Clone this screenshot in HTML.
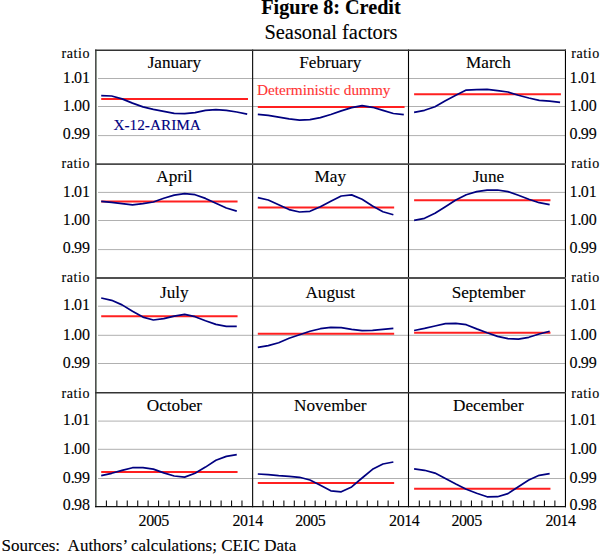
<!DOCTYPE html>
<html><head><meta charset="utf-8"><style>
html,body{margin:0;padding:0;background:#fff;width:600px;height:554px;overflow:hidden;}
svg{display:block;font-family:"Liberation Serif",serif;}

</style></head><body>
<svg width="600" height="554" viewBox="0 0 600 554">
<rect width="600" height="554" fill="#fff"/>
<text x="331" y="13.9" text-anchor="middle" font-family="'Liberation Serif', serif" font-weight="bold" font-size="20.2" fill="#000" stroke="#000" stroke-width="0.12">Figure 8: Credit</text>
<text x="331" y="39.0" text-anchor="middle" font-family="'Liberation Serif', serif" font-size="20.4" fill="#000" stroke="#000" stroke-width="0.12">Seasonal factors</text>
<line x1="98" y1="78.5" x2="565.2" y2="78.5" stroke="#b0b0b0" stroke-width="1"/>
<line x1="98" y1="106.5" x2="565.2" y2="106.5" stroke="#b0b0b0" stroke-width="1"/>
<line x1="98" y1="135.6" x2="565.2" y2="135.6" stroke="#b0b0b0" stroke-width="1"/>
<line x1="98" y1="192.4" x2="565.2" y2="192.4" stroke="#b0b0b0" stroke-width="1"/>
<line x1="98" y1="220.5" x2="565.2" y2="220.5" stroke="#b0b0b0" stroke-width="1"/>
<line x1="98" y1="249.6" x2="565.2" y2="249.6" stroke="#b0b0b0" stroke-width="1"/>
<line x1="98" y1="306.2" x2="565.2" y2="306.2" stroke="#b0b0b0" stroke-width="1"/>
<line x1="98" y1="335.3" x2="565.2" y2="335.3" stroke="#b0b0b0" stroke-width="1"/>
<line x1="98" y1="363.5" x2="565.2" y2="363.5" stroke="#b0b0b0" stroke-width="1"/>
<line x1="98" y1="421.1" x2="565.2" y2="421.1" stroke="#b0b0b0" stroke-width="1"/>
<line x1="98" y1="449.3" x2="565.2" y2="449.3" stroke="#b0b0b0" stroke-width="1"/>
<line x1="98" y1="478.5" x2="565.2" y2="478.5" stroke="#b0b0b0" stroke-width="1"/>
<line x1="101.21" y1="99.1" x2="247.99" y2="99.1" stroke="#ff2020" stroke-width="2"/>
<polyline points="101.21,95.70 111.64,96.00 122.07,98.90 132.49,103.10 142.92,106.90 153.35,109.30 163.77,111.30 174.20,113.30 184.63,113.70 195.05,112.70 205.48,110.40 215.91,109.60 226.33,110.30 236.76,112.00 247.19,114.10" fill="none" stroke="#000080" stroke-width="1.7" stroke-linecap="butt" stroke-linejoin="round"/>
<text x="174.4" y="67.7" text-anchor="middle" font-family="'Liberation Serif', serif" font-size="17.2" fill="#000" stroke="#000" stroke-width="0.12">January</text>
<line x1="257.81" y1="106.9" x2="404.59" y2="106.9" stroke="#ff2020" stroke-width="2"/>
<polyline points="257.81,114.30 268.24,115.30 278.67,117.10 289.09,118.90 299.52,120.10 309.95,119.60 320.37,117.60 330.80,114.50 341.23,110.90 351.65,107.60 362.08,105.70 372.51,107.30 382.93,110.40 393.36,113.50 403.79,114.70" fill="none" stroke="#000080" stroke-width="1.7" stroke-linecap="butt" stroke-linejoin="round"/>
<text x="330.3" y="67.7" text-anchor="middle" font-family="'Liberation Serif', serif" font-size="17.2" fill="#000" stroke="#000" stroke-width="0.12">February</text>
<line x1="414.11" y1="94.2" x2="560.89" y2="94.2" stroke="#ff2020" stroke-width="2"/>
<polyline points="414.11,112.30 424.54,110.30 434.97,106.70 445.39,100.70 455.82,95.30 466.25,90.10 476.67,89.70 487.10,89.30 497.53,90.70 507.95,92.00 518.38,95.30 528.81,98.00 539.23,100.40 549.66,101.10 560.09,102.40" fill="none" stroke="#000080" stroke-width="1.7" stroke-linecap="butt" stroke-linejoin="round"/>
<text x="488.4" y="67.7" text-anchor="middle" font-family="'Liberation Serif', serif" font-size="17.2" fill="#000" stroke="#000" stroke-width="0.12">March</text>
<line x1="101.21" y1="201.4" x2="237.56" y2="201.4" stroke="#ff2020" stroke-width="2"/>
<polyline points="101.21,201.30 111.64,202.40 122.07,203.60 132.49,204.90 142.92,203.70 153.35,202.00 163.77,198.30 174.20,195.10 184.63,193.70 195.05,194.70 205.48,198.40 215.91,203.30 226.33,208.00 236.76,211.10" fill="none" stroke="#000080" stroke-width="1.7" stroke-linecap="butt" stroke-linejoin="round"/>
<text x="174.4" y="182.3" text-anchor="middle" font-family="'Liberation Serif', serif" font-size="17.2" fill="#000" stroke="#000" stroke-width="0.12">April</text>
<line x1="257.81" y1="207.4" x2="394.16" y2="207.4" stroke="#ff2020" stroke-width="2"/>
<polyline points="257.81,197.70 268.24,200.00 278.67,204.70 289.09,209.60 299.52,212.00 309.95,211.30 320.37,206.70 330.80,201.20 341.23,196.00 351.65,194.90 362.08,199.30 372.51,206.00 382.93,211.70 393.36,214.70" fill="none" stroke="#000080" stroke-width="1.7" stroke-linecap="butt" stroke-linejoin="round"/>
<text x="330.3" y="182.3" text-anchor="middle" font-family="'Liberation Serif', serif" font-size="17.2" fill="#000" stroke="#000" stroke-width="0.12">May</text>
<line x1="414.11" y1="200.35" x2="550.46" y2="200.35" stroke="#ff2020" stroke-width="2"/>
<polyline points="414.11,220.40 424.54,218.30 434.97,213.30 445.39,206.70 455.82,200.00 466.25,194.70 476.67,191.60 487.10,190.10 497.53,190.00 507.95,191.60 518.38,195.30 528.81,199.30 539.23,202.70 549.66,204.70" fill="none" stroke="#000080" stroke-width="1.7" stroke-linecap="butt" stroke-linejoin="round"/>
<text x="488.4" y="182.3" text-anchor="middle" font-family="'Liberation Serif', serif" font-size="17.2" fill="#000" stroke="#000" stroke-width="0.12">June</text>
<line x1="101.21" y1="316.3" x2="237.56" y2="316.3" stroke="#ff2020" stroke-width="2"/>
<polyline points="101.21,298.00 111.64,300.30 122.07,304.90 132.49,311.30 142.92,317.10 153.35,320.00 163.77,318.70 174.20,316.20 184.63,314.40 195.05,316.70 205.48,320.70 215.91,324.40 226.33,326.30 236.76,326.40" fill="none" stroke="#000080" stroke-width="1.7" stroke-linecap="butt" stroke-linejoin="round"/>
<text x="174.4" y="297.6" text-anchor="middle" font-family="'Liberation Serif', serif" font-size="17.2" fill="#000" stroke="#000" stroke-width="0.12">July</text>
<line x1="257.81" y1="333.8" x2="394.16" y2="333.8" stroke="#ff2020" stroke-width="2"/>
<polyline points="257.81,347.30 268.24,345.60 278.67,342.70 289.09,338.30 299.52,334.70 309.95,331.30 320.37,328.70 330.80,327.40 341.23,327.60 351.65,329.30 362.08,330.70 372.51,330.30 382.93,329.30 393.36,328.30" fill="none" stroke="#000080" stroke-width="1.7" stroke-linecap="butt" stroke-linejoin="round"/>
<text x="330.3" y="297.6" text-anchor="middle" font-family="'Liberation Serif', serif" font-size="17.2" fill="#000" stroke="#000" stroke-width="0.12">August</text>
<line x1="414.11" y1="332.8" x2="550.46" y2="332.8" stroke="#ff2020" stroke-width="2"/>
<polyline points="414.11,330.50 424.54,328.40 434.97,326.00 445.39,323.60 455.82,323.30 466.25,324.70 476.67,328.90 487.10,332.80 497.53,336.40 507.95,338.70 518.38,339.10 528.81,337.30 539.23,334.00 549.66,331.30" fill="none" stroke="#000080" stroke-width="1.7" stroke-linecap="butt" stroke-linejoin="round"/>
<text x="488.4" y="297.6" text-anchor="middle" font-family="'Liberation Serif', serif" font-size="17.2" fill="#000" stroke="#000" stroke-width="0.12">September</text>
<line x1="101.21" y1="472.0" x2="237.56" y2="472.0" stroke="#ff2020" stroke-width="2"/>
<polyline points="101.21,475.70 111.64,473.30 122.07,470.40 132.49,467.70 142.92,467.60 153.35,469.10 163.77,472.90 174.20,476.00 184.63,477.10 195.05,473.30 205.48,467.10 215.91,460.30 226.33,456.40 236.76,454.70" fill="none" stroke="#000080" stroke-width="1.7" stroke-linecap="butt" stroke-linejoin="round"/>
<text x="174.4" y="410.5" text-anchor="middle" font-family="'Liberation Serif', serif" font-size="17.2" fill="#000" stroke="#000" stroke-width="0.12">October</text>
<line x1="257.81" y1="482.9" x2="394.16" y2="482.9" stroke="#ff2020" stroke-width="2"/>
<polyline points="257.81,474.00 268.24,474.70 278.67,475.70 289.09,476.40 299.52,477.30 309.95,480.00 320.37,485.30 330.80,490.80 341.23,491.80 351.65,486.90 362.08,478.00 372.51,469.30 382.93,464.00 393.36,462.00" fill="none" stroke="#000080" stroke-width="1.7" stroke-linecap="butt" stroke-linejoin="round"/>
<text x="330.3" y="410.5" text-anchor="middle" font-family="'Liberation Serif', serif" font-size="17.2" fill="#000" stroke="#000" stroke-width="0.12">November</text>
<line x1="414.11" y1="488.75" x2="550.46" y2="488.75" stroke="#ff2020" stroke-width="2"/>
<polyline points="414.11,468.90 424.54,470.30 434.97,473.10 445.39,478.40 455.82,484.00 466.25,489.30 476.67,493.30 487.10,496.80 497.53,496.70 507.95,493.60 518.38,486.70 528.81,480.00 539.23,475.30 549.66,473.60" fill="none" stroke="#000080" stroke-width="1.7" stroke-linecap="butt" stroke-linejoin="round"/>
<text x="488.4" y="410.5" text-anchor="middle" font-family="'Liberation Serif', serif" font-size="17.2" fill="#000" stroke="#000" stroke-width="0.12">December</text>
<rect x="95" y="49.6" width="1" height="457.6" fill="#505050"/>
<rect x="96" y="49.6" width="1" height="457.6" fill="#8a948a"/>
<line x1="252.6" y1="49.6" x2="252.6" y2="507.2" stroke="#1a1a1a" stroke-width="1.2"/>
<line x1="408.5" y1="49.6" x2="408.5" y2="507.2" stroke="#000" stroke-width="1.1"/>
<line x1="565.45" y1="49.6" x2="565.45" y2="507.2" stroke="#000" stroke-width="1.1"/>
<line x1="95" y1="50.3" x2="566" y2="50.3" stroke="#333" stroke-width="1.4"/>
<line x1="95" y1="164.05" x2="566" y2="164.05" stroke="#4a4a4a" stroke-width="1.8"/>
<line x1="95" y1="278.0" x2="566" y2="278.0" stroke="#505050" stroke-width="1.8"/>
<line x1="95" y1="392.7" x2="566" y2="392.7" stroke="#333" stroke-width="1.4"/>
<line x1="95" y1="506.6" x2="566" y2="506.6" stroke="#111" stroke-width="1.2"/>
<line x1="106.43" y1="500.5" x2="106.43" y2="506.4" stroke="#111" stroke-width="1.1"/>
<line x1="116.85" y1="500.5" x2="116.85" y2="506.4" stroke="#111" stroke-width="1.1"/>
<line x1="127.28" y1="500.5" x2="127.28" y2="506.4" stroke="#111" stroke-width="1.1"/>
<line x1="137.71" y1="500.5" x2="137.71" y2="506.4" stroke="#111" stroke-width="1.1"/>
<line x1="148.13" y1="500.5" x2="148.13" y2="506.4" stroke="#111" stroke-width="1.1"/>
<line x1="158.56" y1="500.5" x2="158.56" y2="506.4" stroke="#111" stroke-width="1.1"/>
<line x1="168.99" y1="500.5" x2="168.99" y2="506.4" stroke="#111" stroke-width="1.1"/>
<line x1="179.41" y1="500.5" x2="179.41" y2="506.4" stroke="#111" stroke-width="1.1"/>
<line x1="189.84" y1="500.5" x2="189.84" y2="506.4" stroke="#111" stroke-width="1.1"/>
<line x1="200.27" y1="500.5" x2="200.27" y2="506.4" stroke="#111" stroke-width="1.1"/>
<line x1="210.69" y1="500.5" x2="210.69" y2="506.4" stroke="#111" stroke-width="1.1"/>
<line x1="221.12" y1="500.5" x2="221.12" y2="506.4" stroke="#111" stroke-width="1.1"/>
<line x1="231.55" y1="500.5" x2="231.55" y2="506.4" stroke="#111" stroke-width="1.1"/>
<line x1="241.97" y1="500.5" x2="241.97" y2="506.4" stroke="#111" stroke-width="1.1"/>
<line x1="263.03" y1="500.5" x2="263.03" y2="506.4" stroke="#111" stroke-width="1.1"/>
<line x1="273.45" y1="500.5" x2="273.45" y2="506.4" stroke="#111" stroke-width="1.1"/>
<line x1="283.88" y1="500.5" x2="283.88" y2="506.4" stroke="#111" stroke-width="1.1"/>
<line x1="294.31" y1="500.5" x2="294.31" y2="506.4" stroke="#111" stroke-width="1.1"/>
<line x1="304.73" y1="500.5" x2="304.73" y2="506.4" stroke="#111" stroke-width="1.1"/>
<line x1="315.16" y1="500.5" x2="315.16" y2="506.4" stroke="#111" stroke-width="1.1"/>
<line x1="325.59" y1="500.5" x2="325.59" y2="506.4" stroke="#111" stroke-width="1.1"/>
<line x1="336.01" y1="500.5" x2="336.01" y2="506.4" stroke="#111" stroke-width="1.1"/>
<line x1="346.44" y1="500.5" x2="346.44" y2="506.4" stroke="#111" stroke-width="1.1"/>
<line x1="356.87" y1="500.5" x2="356.87" y2="506.4" stroke="#111" stroke-width="1.1"/>
<line x1="367.29" y1="500.5" x2="367.29" y2="506.4" stroke="#111" stroke-width="1.1"/>
<line x1="377.72" y1="500.5" x2="377.72" y2="506.4" stroke="#111" stroke-width="1.1"/>
<line x1="388.15" y1="500.5" x2="388.15" y2="506.4" stroke="#111" stroke-width="1.1"/>
<line x1="398.57" y1="500.5" x2="398.57" y2="506.4" stroke="#111" stroke-width="1.1"/>
<line x1="419.33" y1="500.5" x2="419.33" y2="506.4" stroke="#111" stroke-width="1.1"/>
<line x1="429.75" y1="500.5" x2="429.75" y2="506.4" stroke="#111" stroke-width="1.1"/>
<line x1="440.18" y1="500.5" x2="440.18" y2="506.4" stroke="#111" stroke-width="1.1"/>
<line x1="450.61" y1="500.5" x2="450.61" y2="506.4" stroke="#111" stroke-width="1.1"/>
<line x1="461.03" y1="500.5" x2="461.03" y2="506.4" stroke="#111" stroke-width="1.1"/>
<line x1="471.46" y1="500.5" x2="471.46" y2="506.4" stroke="#111" stroke-width="1.1"/>
<line x1="481.89" y1="500.5" x2="481.89" y2="506.4" stroke="#111" stroke-width="1.1"/>
<line x1="492.31" y1="500.5" x2="492.31" y2="506.4" stroke="#111" stroke-width="1.1"/>
<line x1="502.74" y1="500.5" x2="502.74" y2="506.4" stroke="#111" stroke-width="1.1"/>
<line x1="513.17" y1="500.5" x2="513.17" y2="506.4" stroke="#111" stroke-width="1.1"/>
<line x1="523.59" y1="500.5" x2="523.59" y2="506.4" stroke="#111" stroke-width="1.1"/>
<line x1="534.02" y1="500.5" x2="534.02" y2="506.4" stroke="#111" stroke-width="1.1"/>
<line x1="544.45" y1="500.5" x2="544.45" y2="506.4" stroke="#111" stroke-width="1.1"/>
<line x1="554.87" y1="500.5" x2="554.87" y2="506.4" stroke="#111" stroke-width="1.1"/>
<text x="90.1" y="58.4" text-anchor="end" font-family="'Liberation Serif', serif" font-size="14" letter-spacing="0.6" fill="#000" stroke="#000" stroke-width="0.12">ratio</text>
<text x="571.2" y="58.4" text-anchor="start" font-family="'Liberation Serif', serif" font-size="14" letter-spacing="0.6" fill="#000" stroke="#000" stroke-width="0.12">ratio</text>
<text x="90" y="82.7" text-anchor="end" font-family="'Liberation Serif', serif" font-size="16" fill="#000" stroke="#000" stroke-width="0.12">1.<tspan dx="-0.8">01</tspan></text>
<text x="569.5" y="82.7" text-anchor="start" font-family="'Liberation Serif', serif" font-size="16" fill="#000" stroke="#000" stroke-width="0.12">1.<tspan dx="-0.8">01</tspan></text>
<text x="90" y="110.7" text-anchor="end" font-family="'Liberation Serif', serif" font-size="16" fill="#000" stroke="#000" stroke-width="0.12">1.<tspan dx="-0.8">00</tspan></text>
<text x="569.5" y="110.7" text-anchor="start" font-family="'Liberation Serif', serif" font-size="16" fill="#000" stroke="#000" stroke-width="0.12">1.<tspan dx="-0.8">00</tspan></text>
<text x="90" y="138.8" text-anchor="end" font-family="'Liberation Serif', serif" font-size="16" fill="#000" stroke="#000" stroke-width="0.12">0.<tspan dx="-0.8">99</tspan></text>
<text x="569.5" y="138.8" text-anchor="start" font-family="'Liberation Serif', serif" font-size="16" fill="#000" stroke="#000" stroke-width="0.12">0.<tspan dx="-0.8">99</tspan></text>
<text x="90.1" y="168.4" text-anchor="end" font-family="'Liberation Serif', serif" font-size="14" letter-spacing="0.6" fill="#000" stroke="#000" stroke-width="0.12">ratio</text>
<text x="571.2" y="168.4" text-anchor="start" font-family="'Liberation Serif', serif" font-size="14" letter-spacing="0.6" fill="#000" stroke="#000" stroke-width="0.12">ratio</text>
<text x="90" y="196.7" text-anchor="end" font-family="'Liberation Serif', serif" font-size="16" fill="#000" stroke="#000" stroke-width="0.12">1.<tspan dx="-0.8">01</tspan></text>
<text x="569.5" y="196.7" text-anchor="start" font-family="'Liberation Serif', serif" font-size="16" fill="#000" stroke="#000" stroke-width="0.12">1.<tspan dx="-0.8">01</tspan></text>
<text x="90" y="224.8" text-anchor="end" font-family="'Liberation Serif', serif" font-size="16" fill="#000" stroke="#000" stroke-width="0.12">1.<tspan dx="-0.8">00</tspan></text>
<text x="569.5" y="224.8" text-anchor="start" font-family="'Liberation Serif', serif" font-size="16" fill="#000" stroke="#000" stroke-width="0.12">1.<tspan dx="-0.8">00</tspan></text>
<text x="90" y="253.0" text-anchor="end" font-family="'Liberation Serif', serif" font-size="16" fill="#000" stroke="#000" stroke-width="0.12">0.<tspan dx="-0.8">99</tspan></text>
<text x="569.5" y="253.0" text-anchor="start" font-family="'Liberation Serif', serif" font-size="16" fill="#000" stroke="#000" stroke-width="0.12">0.<tspan dx="-0.8">99</tspan></text>
<text x="90.1" y="282.3" text-anchor="end" font-family="'Liberation Serif', serif" font-size="14" letter-spacing="0.6" fill="#000" stroke="#000" stroke-width="0.12">ratio</text>
<text x="571.2" y="282.3" text-anchor="start" font-family="'Liberation Serif', serif" font-size="14" letter-spacing="0.6" fill="#000" stroke="#000" stroke-width="0.12">ratio</text>
<text x="90" y="310.3" text-anchor="end" font-family="'Liberation Serif', serif" font-size="16" fill="#000" stroke="#000" stroke-width="0.12">1.<tspan dx="-0.8">01</tspan></text>
<text x="569.5" y="310.3" text-anchor="start" font-family="'Liberation Serif', serif" font-size="16" fill="#000" stroke="#000" stroke-width="0.12">1.<tspan dx="-0.8">01</tspan></text>
<text x="90" y="339.6" text-anchor="end" font-family="'Liberation Serif', serif" font-size="16" fill="#000" stroke="#000" stroke-width="0.12">1.<tspan dx="-0.8">00</tspan></text>
<text x="569.5" y="339.6" text-anchor="start" font-family="'Liberation Serif', serif" font-size="16" fill="#000" stroke="#000" stroke-width="0.12">1.<tspan dx="-0.8">00</tspan></text>
<text x="90" y="367.6" text-anchor="end" font-family="'Liberation Serif', serif" font-size="16" fill="#000" stroke="#000" stroke-width="0.12">0.<tspan dx="-0.8">99</tspan></text>
<text x="569.5" y="367.6" text-anchor="start" font-family="'Liberation Serif', serif" font-size="16" fill="#000" stroke="#000" stroke-width="0.12">0.<tspan dx="-0.8">99</tspan></text>
<text x="90.1" y="397.9" text-anchor="end" font-family="'Liberation Serif', serif" font-size="14" letter-spacing="0.6" fill="#000" stroke="#000" stroke-width="0.12">ratio</text>
<text x="571.2" y="397.9" text-anchor="start" font-family="'Liberation Serif', serif" font-size="14" letter-spacing="0.6" fill="#000" stroke="#000" stroke-width="0.12">ratio</text>
<text x="90" y="425.1" text-anchor="end" font-family="'Liberation Serif', serif" font-size="16" fill="#000" stroke="#000" stroke-width="0.12">1.<tspan dx="-0.8">01</tspan></text>
<text x="569.5" y="425.1" text-anchor="start" font-family="'Liberation Serif', serif" font-size="16" fill="#000" stroke="#000" stroke-width="0.12">1.<tspan dx="-0.8">01</tspan></text>
<text x="90" y="453.8" text-anchor="end" font-family="'Liberation Serif', serif" font-size="16" fill="#000" stroke="#000" stroke-width="0.12">1.<tspan dx="-0.8">00</tspan></text>
<text x="569.5" y="453.8" text-anchor="start" font-family="'Liberation Serif', serif" font-size="16" fill="#000" stroke="#000" stroke-width="0.12">1.<tspan dx="-0.8">00</tspan></text>
<text x="90" y="482.7" text-anchor="end" font-family="'Liberation Serif', serif" font-size="16" fill="#000" stroke="#000" stroke-width="0.12">0.<tspan dx="-0.8">99</tspan></text>
<text x="569.5" y="482.7" text-anchor="start" font-family="'Liberation Serif', serif" font-size="16" fill="#000" stroke="#000" stroke-width="0.12">0.<tspan dx="-0.8">99</tspan></text>
<text x="90" y="509.9" text-anchor="end" font-family="'Liberation Serif', serif" font-size="16" fill="#000" stroke="#000" stroke-width="0.12">0.<tspan dx="-0.8">98</tspan></text>
<text x="569.5" y="509.9" text-anchor="start" font-family="'Liberation Serif', serif" font-size="16" fill="#000" stroke="#000" stroke-width="0.12">0.<tspan dx="-0.8">98</tspan></text>
<text x="153.7" y="525.6" text-anchor="middle" font-family="'Liberation Serif', serif" font-size="16" letter-spacing="-0.45" fill="#000" stroke="#000" stroke-width="0.12">2005</text>
<text x="247.6" y="525.6" text-anchor="middle" font-family="'Liberation Serif', serif" font-size="16" letter-spacing="-0.45" fill="#000" stroke="#000" stroke-width="0.12">2014</text>
<text x="310.3" y="525.6" text-anchor="middle" font-family="'Liberation Serif', serif" font-size="16" letter-spacing="-0.45" fill="#000" stroke="#000" stroke-width="0.12">2005</text>
<text x="404.2" y="525.6" text-anchor="middle" font-family="'Liberation Serif', serif" font-size="16" letter-spacing="-0.45" fill="#000" stroke="#000" stroke-width="0.12">2014</text>
<text x="466.6" y="525.6" text-anchor="middle" font-family="'Liberation Serif', serif" font-size="16" letter-spacing="-0.45" fill="#000" stroke="#000" stroke-width="0.12">2005</text>
<text x="560.5" y="525.6" text-anchor="middle" font-family="'Liberation Serif', serif" font-size="16" letter-spacing="-0.45" fill="#000" stroke="#000" stroke-width="0.12">2014</text>
<text x="113.4" y="129.6" font-family="'Liberation Serif', serif" font-size="15.3" fill="#000080" stroke="#000080" stroke-width="0.12">X-12-ARIMA</text>
<text x="257" y="94.7" font-family="'Liberation Serif', serif" font-size="15.25" fill="#ff3535" stroke="#ff3535" stroke-width="0.12">Deterministic dummy</text>
<text x="1.5" y="550.5" font-family="'Liberation Serif', serif" font-size="17" fill="#000" stroke="#000" stroke-width="0.12" xml:space="preserve">Sources:  Authors’ calculations; CEIC Data</text>
</svg>
</body></html>
